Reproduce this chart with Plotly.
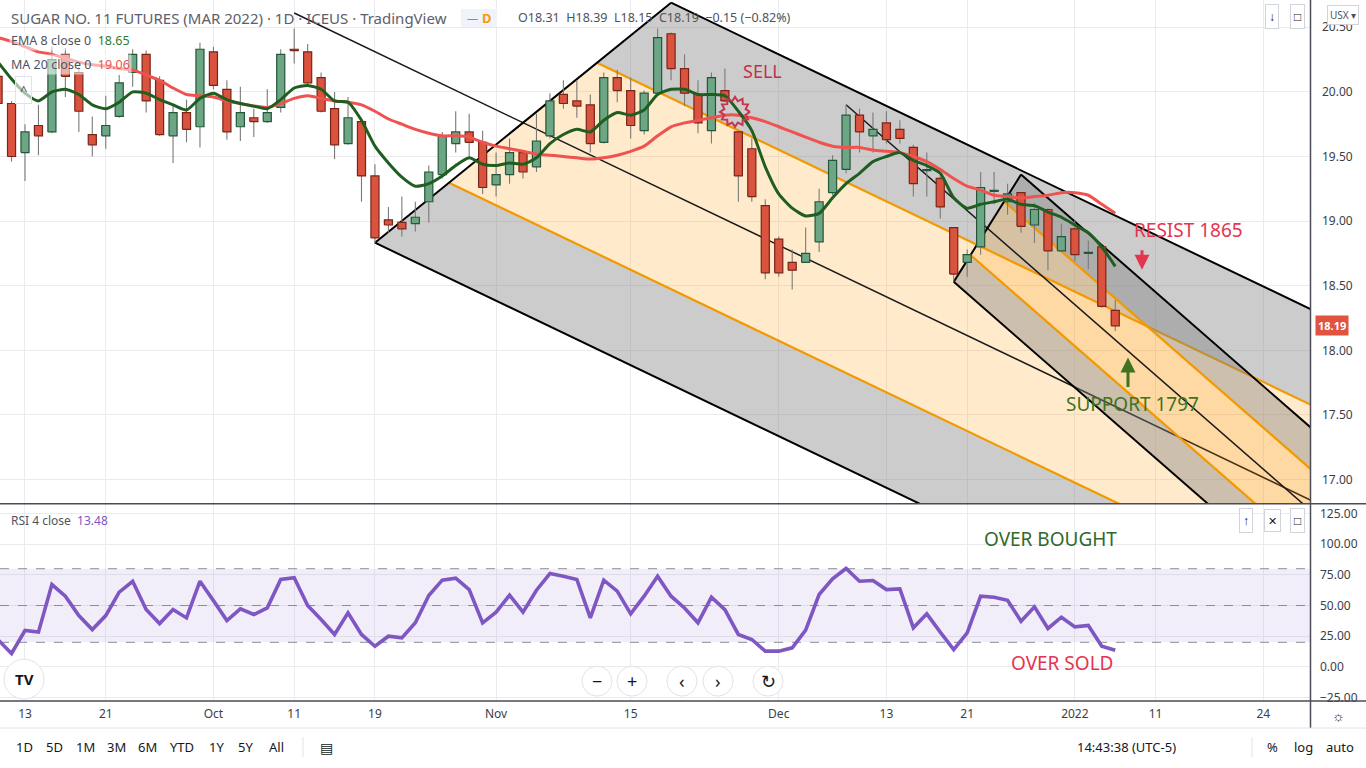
import numpy as np
import plotly.graph_objects as go

W, H = 1366, 768
FIG_H = 773                # rendered height (page is captured slightly compressed)
PANE_RIGHT = 1310          # px, right edge of the chart panes
PRICE_TOP, PRICE_BOT = 0, 504
RSI_TOP, RSI_BOT = 505, 701

def px(x):
    return x / W

def py(y):
    return 1 - y / H

# ---------------- data (bar index 0 = 13 Sep 2021) ----------------
bar_index = list(range(-2, 82))
opens = [20.12, 19.91, 19.53, 19.74, 19.69, 20.29, 20.15, 19.67, 19.66, 19.81, 20.15, 20.29,
         20.09, 19.66, 19.84, 19.73, 20.31, 20.02, 19.73, 19.80, 19.77, 19.88, 20.33, 20.31,
         20.11, 19.87, 19.60, 19.77, 19.35, 19.01, 18.99, 18.98, 19.15, 19.36, 19.60, 19.69,
         19.61, 19.28, 19.36, 19.53, 19.42, 19.66, 19.98, 19.93, 19.90, 19.61, 20.11, 20.01,
         19.70, 19.99, 20.45, 20.18, 19.98, 19.70, 20.01, 19.69, 19.56, 19.12, 18.86, 18.68,
         18.68, 18.84, 19.22, 19.40, 19.82, 19.66, 19.76, 19.71, 19.57, 19.39, 19.33, 18.95,
         18.68, 18.80, 19.23, 19.15, 19.22, 18.97, 19.09, 18.77, 18.94, 18.75, 18.80, 18.31]
highs = [20.22, 19.93, 19.75, 19.90, 20.35, 20.34, 20.19, 19.81, 19.97, 20.13, 20.33, 20.32,
         20.12, 19.90, 19.94, 20.38, 20.35, 20.09, 20.04, 19.87, 20.02, 20.33, 20.49, 20.37,
         20.15, 20.00, 19.96, 19.80, 19.44, 19.11, 19.19, 19.15, 19.43, 19.69, 19.85, 19.83,
         19.70, 19.53, 19.64, 19.54, 19.83, 19.99, 20.09, 20.09, 19.98, 20.15, 20.17, 20.11,
         20.01, 20.49, 20.46, 20.29, 20.09, 20.15, 20.18, 19.70, 19.64, 19.17, 18.88, 18.78,
         18.95, 19.25, 19.51, 19.90, 19.87, 19.84, 19.85, 19.78, 19.59, 19.53, 19.38, 18.95,
         18.78, 19.38, 19.38, 19.29, 19.22, 19.14, 19.10, 18.98, 19.01, 18.85, 18.80, 18.39]
lows = [19.88, 19.46, 19.31, 19.51, 19.68, 19.96, 19.69, 19.50, 19.56, 19.80, 20.04, 19.84,
        19.66, 19.45, 19.61, 19.57, 20.02, 19.63, 19.62, 19.65, 19.76, 19.84, 20.22, 20.04,
        19.84, 19.48, 19.59, 19.15, 18.83, 18.91, 18.88, 18.92, 18.99, 19.33, 19.53, 19.50,
        19.21, 19.19, 19.29, 19.33, 19.38, 19.64, 19.87, 19.80, 19.53, 19.60, 19.92, 19.64,
        19.67, 19.98, 20.09, 19.89, 19.68, 19.60, 19.92, 19.15, 19.15, 18.55, 18.57, 18.47,
        18.68, 18.76, 19.20, 19.37, 19.53, 19.53, 19.60, 19.60, 19.19, 19.19, 19.02, 18.53,
        18.57, 18.74, 19.13, 19.05, 18.91, 18.83, 18.62, 18.77, 18.69, 18.63, 18.33, 18.15]
closes = [19.91, 19.50, 19.69, 19.66, 20.25, 20.12, 19.85, 19.59, 19.74, 20.07, 20.29, 19.93,
          19.67, 19.84, 19.71, 20.33, 20.05, 19.69, 19.84, 19.77, 19.84, 20.29, 20.32, 20.07,
          19.85, 19.59, 19.80, 19.35, 18.87, 18.97, 18.94, 19.03, 19.38, 19.66, 19.69, 19.61,
          19.26, 19.36, 19.53, 19.38, 19.62, 19.93, 19.91, 19.89, 19.60, 20.11, 20.01, 19.74,
          19.99, 20.42, 20.18, 19.99, 19.76, 20.11, 19.93, 19.35, 19.19, 18.60, 18.60, 18.62,
          18.75, 19.15, 19.47, 19.82, 19.69, 19.71, 19.63, 19.64, 19.29, 19.39, 19.11, 18.59,
          18.74, 19.26, 19.23, 19.21, 18.96, 19.09, 18.77, 18.88, 18.74, 18.75, 18.34, 18.19]
ema8 = [20.23, 20.10, 19.99, 19.93, 20.00, 20.02, 19.98, 19.90, 19.87, 19.92, 20.00, 19.99,
        19.94, 19.90, 19.86, 19.95, 19.99, 19.94, 19.91, 19.89, 19.87, 19.94, 20.03, 20.05,
        20.02, 19.93, 19.92, 19.78, 19.58, 19.45, 19.34, 19.27, 19.29, 19.35, 19.43, 19.49,
        19.44, 19.43, 19.45, 19.44, 19.49, 19.60, 19.67, 19.71, 19.69, 19.78, 19.84, 19.82,
        19.86, 19.98, 20.02, 20.02, 19.98, 19.98, 19.97, 19.85, 19.70, 19.42, 19.21, 19.10,
        19.04, 19.06, 19.18, 19.29, 19.37, 19.46, 19.50, 19.53, 19.47, 19.43, 19.37, 19.18,
        19.10, 19.13, 19.15, 19.17, 19.13, 19.12, 19.07, 19.03, 18.97, 18.91, 18.80, 18.65]
ma20 = [20.42, 20.39, 20.35, 20.31, 20.29, 20.26, 20.23, 20.21, 20.20, 20.18, 20.17, 20.13,
        20.09, 20.03, 19.98, 19.97, 19.96, 19.93, 19.91, 19.89, 19.88, 19.91, 19.95, 19.97,
        19.95, 19.93, 19.92, 19.90, 19.85, 19.79, 19.75, 19.71, 19.68, 19.66, 19.66, 19.65,
        19.61, 19.58, 19.56, 19.54, 19.52, 19.51, 19.50, 19.49, 19.48, 19.49, 19.51, 19.54,
        19.58, 19.66, 19.73, 19.76, 19.78, 19.80, 19.82, 19.82, 19.80, 19.77, 19.73, 19.69,
        19.65, 19.61, 19.58, 19.57, 19.57, 19.55, 19.54, 19.53, 19.50, 19.46, 19.40, 19.33,
        19.27, 19.24, 19.20, 19.19, 19.18, 19.19, 19.20, 19.22, 19.22, 19.20, 19.13, 19.06]
rsi4 = [22.0, 10.9, 29.6, 28.3, 67.1, 57.6, 41.8, 30.4, 41.8, 60.9, 69.8, 46.7,
        35.3, 46.7, 39.9, 69.8, 54.0, 37.8, 47.3, 42.7, 48.1, 71.2, 72.6, 50.0,
        38.6, 26.4, 44.0, 26.4, 16.8, 25.0, 23.6, 35.9, 58.2, 70.7, 72.3, 63.0,
        35.9, 44.6, 58.4, 44.6, 62.5, 76.1, 73.9, 71.2, 39.9, 70.7, 61.7, 43.2,
        57.6, 73.9, 57.6, 48.0, 35.9, 56.8, 46.7, 26.4, 22.3, 12.8, 12.8, 15.5,
        29.9, 59.0, 71.7, 80.2, 69.8, 70.4, 63.0, 63.6, 31.8, 43.2, 28.3, 14.1,
        27.7, 57.6, 56.8, 54.3, 37.2, 48.9, 31.3, 40.5, 32.6, 33.7, 16.8, 13.48]

tick_index = [0, 6, 14, 20, 26, 35, 45, 56, 64, 70, 78, 84, 92]
tick_text = ["13", "21", "Oct", "11", "19", "Nov", "15", "Dec", "13", "21", "2022", "11", "24"]
price_ticks = [17.0, 17.5, 18.0, 18.5, 19.0, 19.5, 20.0, 20.5]
rsi_ticks = [-25, 0, 25, 50, 75, 100, 125]
rsi_levels = [20, 50, 80]

# pitchfork anchor points (bar index, price): handle, pivot 1, pivot 2
fork_big = [(20, 20.61), (26, 18.833), (48, 20.69)]
fork_small = [(61, 19.90), (69, 18.53), (74, 19.36)]
star_center = (52.75, 19.845)

last_price = 18.19

X_RANGE = [-1.857, 95.47]
Y_RANGE = [16.816, 20.711]
RSI_RANGE = [-27.1, 132.5]

# ---------------- figure ----------------
fig = go.Figure()
shapes = []

GRAY_FILL = "rgba(128,128,128,0.40)"
ORANGE_FILL = "rgba(255,152,0,0.20)"
ORANGE = "#f29900"


def seg(a, b, color, width):
    return dict(type="line", xref="x", yref="y", x0=float(a[0]), y0=float(a[1]),
                x1=float(b[0]), y1=float(b[1]), line=dict(color=color, width=width),
                layer="between")


def add_fork(points):
    p0, p1, p2 = [np.array(p, dtype=float) for p in points]
    mid = (p1 + p2) / 2
    slope = (mid[1] - p0[1]) / (mid[0] - p0[0])
    x_end = 140.0

    def ray(f):
        s = p1 + f * (p2 - p1)
        e = np.array([x_end, s[1] + slope * (x_end - s[0])])
        return s, e

    rays = {f: ray(f) for f in (0.0, 0.25, 0.75, 1.0)}
    for fa, fb, col in [(0.0, 0.25, GRAY_FILL), (0.25, 0.75, ORANGE_FILL), (0.75, 1.0, GRAY_FILL)]:
        sa, ea = rays[fa]
        sb, eb = rays[fb]
        path = "M %f,%f L %f,%f L %f,%f L %f,%f Z" % (sa[0], sa[1], ea[0], ea[1], eb[0], eb[1], sb[0], sb[1])
        shapes.append(dict(type="path", xref="x", yref="y", path=path, fillcolor=col,
                           line=dict(width=0), layer="between"))
    for f in (0.25, 0.75):
        s, e = rays[f]
        shapes.append(seg(s, e, ORANGE, 2.2))
    e = np.array([x_end, p0[1] + slope * (x_end - p0[0])])
    shapes.append(seg(p0, e, "#1a1a1a", 1.5))
    for f in (0.0, 1.0):
        s, e = rays[f]
        shapes.append(seg(s, e, "#000000", 2))
    shapes.append(seg(p1, p2, "#000000", 2))


add_fork(fork_big)
add_fork(fork_small)

# wicks
wx, wy = [], []
for i, hi, lo in zip(bar_index, highs, lows):
    wx += [i, i, None]
    wy += [lo, hi, None]
fig.add_trace(go.Scatter(x=wx, y=wy, mode="lines", line=dict(color="#7a7a7a", width=1.1),
                         hoverinfo="skip", showlegend=False, xaxis="x", yaxis="y"))

# bodies (filled scatter rectangles so they sit above wicks and drawings)
half = 0.3
for up in (True, False):
    bx, by = [], []
    for i, o, c in zip(bar_index, opens, closes):
        if (c >= o) == up:
            lo_b, hi_b = min(o, c), max(o, c)
            if hi_b - lo_b < 0.008:
                hi_b = lo_b + 0.008
            bx += [i - half, i + half, i + half, i - half, i - half, None]
            by += [lo_b, lo_b, hi_b, hi_b, lo_b, None]
    fig.add_trace(go.Scatter(x=bx, y=by, mode="lines", fill="toself",
                             fillcolor="#6ca685" if up else "#d9533f",
                             line=dict(color="#24573a" if up else "#7a2418", width=1.2),
                             hoverinfo="skip", showlegend=False, xaxis="x", yaxis="y"))

# moving averages
fig.add_trace(go.Scatter(x=bar_index, y=ma20, mode="lines",
                         line=dict(color="#ef5350", width=3, shape="spline", smoothing=0.6),
                         hoverinfo="skip", showlegend=False, xaxis="x", yaxis="y"))
fig.add_trace(go.Scatter(x=bar_index, y=ema8, mode="lines",
                         line=dict(color="#1f5e20", width=3, shape="spline", smoothing=0.6),
                         hoverinfo="skip", showlegend=False, xaxis="x", yaxis="y"))

# sell marker (decorative sunburst)
ang = np.linspace(0, 2 * np.pi, 25)
rad = np.where(np.arange(25) % 2 == 0, 15.0, 11.0)
fig.add_trace(go.Scatter(x=star_center[0] + rad * np.cos(ang) / 13.46,
                         y=star_center[1] + rad * np.sin(ang) / 129.4,
                         mode="lines", line=dict(color="#c7354f", width=2),
                         hoverinfo="skip", showlegend=False, xaxis="x", yaxis="y"))

# RSI
fig.add_trace(go.Scatter(x=bar_index, y=rsi4, mode="lines", line=dict(color="#7e57c2", width=3.6),
                         hoverinfo="skip", showlegend=False, xaxis="x2", yaxis="y2"))

# ---------------- layout ----------------
dom_x = [0, PANE_RIGHT / W]
FONT = "Noto Sans, Roboto, sans-serif"
axis_font = dict(family=FONT, size=12, color="#3b3e47")
grid_col = "#ebebef"

fig.update_layout(
    width=W, height=FIG_H, margin=dict(l=0, r=0, t=0, b=0),
    paper_bgcolor="white", plot_bgcolor="white",
    showlegend=False, hovermode=False, dragmode=False,
    font=dict(family=FONT),
    xaxis=dict(domain=dom_x, range=X_RANGE, anchor="y", showticklabels=False,
               tickvals=tick_index, showgrid=True, gridcolor=grid_col, zeroline=False,
               showline=False, fixedrange=True),
    yaxis=dict(domain=[py(PRICE_BOT), py(PRICE_TOP)], range=Y_RANGE, side="right",
               anchor="x", tickvals=price_ticks, tickformat=".2f", showgrid=True,
               gridcolor=grid_col, zeroline=False, ticks="", ticklabelstandoff=11,
               tickfont=axis_font, showline=False, fixedrange=True),
    xaxis2=dict(domain=dom_x, range=X_RANGE, anchor="y2", matches="x",
                tickvals=tick_index, ticktext=tick_text, showgrid=True, gridcolor=grid_col,
                zeroline=False, ticks="", ticklabelstandoff=5, tickfont=axis_font,
                showline=False, fixedrange=True),
    yaxis2=dict(domain=[py(RSI_BOT), py(RSI_TOP)], range=RSI_RANGE, side="right",
                anchor="x2", tickvals=rsi_ticks, tickformat=".2f", showgrid=True,
                gridcolor=grid_col, zeroline=False, ticks="", ticklabelstandoff=9,
                tickfont=axis_font, showline=False, fixedrange=True),
)

# RSI band and level lines
shapes.append(dict(type="rect", xref="x2", yref="y2", x0=X_RANGE[0], x1=X_RANGE[1],
                   y0=rsi_levels[0], y1=rsi_levels[2], fillcolor="rgba(126,87,194,0.10)",
                   line=dict(width=0), layer="between"))
for lv in rsi_levels:
    shapes.append(dict(type="line", xref="x2", yref="y2", x0=X_RANGE[0], x1=X_RANGE[1],
                       y0=lv, y1=lv, line=dict(color="#8a8d96", width=1, dash="dash"), layer="between"))
# pane borders
sep = "#4a4d57"
shapes += [
    dict(type="line", xref="paper", yref="paper", x0=0, x1=1, y0=py(504.5), y1=py(504.5), line=dict(color=sep, width=1.5)),
    dict(type="line", xref="paper", yref="paper", x0=0, x1=1, y0=py(702), y1=py(702), line=dict(color=sep, width=1.5)),
    dict(type="line", xref="paper", yref="paper", x0=px(1310.5), x1=px(1310.5), y0=py(0), y1=py(729), line=dict(color=sep, width=1.5)),
    dict(type="line", xref="paper", yref="paper", x0=0, x1=1, y0=py(729), y1=py(729), line=dict(color="#e0e3eb", width=1)),
    dict(type="line", xref="paper", yref="paper", x0=px(303), x1=px(303), y0=py(738), y1=py(758), line=dict(color="#e0e3eb", width=1)),
    dict(type="line", xref="paper", yref="paper", x0=px(1252), x1=px(1252), y0=py(738), y1=py(758), line=dict(color="#e0e3eb", width=1)),
]
# header pill
shapes.append(dict(type="rect", xref="paper", yref="paper", x0=px(461), x1=px(497), y0=py(27), y1=py(9),
                   fillcolor="#f0f3fa", line=dict(width=0)))
# round nav buttons + TV logo
for cx in (597, 632, 682, 718, 768):
    shapes.append(dict(type="circle", xref="paper", yref="paper", x0=px(cx - 15), x1=px(cx + 15),
                       y0=py(682 + 15), y1=py(682 - 15), fillcolor="white", line=dict(color="#e3e3e6", width=1)))
shapes.append(dict(type="circle", xref="paper", yref="paper", x0=px(4), x1=px(44), y0=py(700), y1=py(660),
                   fillcolor="white", line=dict(color="#e3e3e6", width=1)))
fig.update_layout(shapes=shapes)

ann = []
def text(x, y, s, size=13, color="#50535e", anchor="left", bg=None, bold=False, border=None, pad=1):
    d = dict(xref="paper", yref="paper", x=px(x), y=py(y), text=("<b>%s</b>" % s) if bold else s,
             showarrow=False, xanchor=anchor, yanchor="middle",
             font=dict(size=size, color=color, family=FONT))
    if bg:
        d["bgcolor"] = bg
    if border:
        d["bordercolor"] = border
        d["borderwidth"] = 1
        d["borderpad"] = pad
    ann.append(d)

text(9, 18, "SUGAR NO. 11 FUTURES (MAR 2022) · 1D · ICEUS · TradingView", size=15, color="#5d606b")
text(472, 18, "—", size=11, color="#8a8d96", anchor="center")
text(487, 18, "D", size=13, color="#ff9800", anchor="center", bold=True)
text(516, 18, "O18.31  H18.39  L18.15  C18.19  −0.15 (−0.82%)", size=12.5, color="#50535e")
text(9, 41, "EMA 8 close 0  <span style='color:#2f7d32'>18.65</span>", size=12.5, bg="rgba(255,255,255,0.55)")
text(9, 65, "MA 20 close 0  <span style='color:#ef5350'>19.06</span>", size=12.5, bg="rgba(255,255,255,0.55)")
text(23, 90, "^", size=13, color="#50535e", anchor="center", border="#e0e3eb", pad=4, bg="rgba(255,255,255,0.6)")
text(9, 521, "RSI 4 close  <span style='color:#7e57c2'>13.48</span>", size=12)

text(762, 71, "SELL", size=18, color="#c2314b", anchor="center")
text(1188, 230, "RESIST 1865", size=19, color="#e5344f", anchor="center")
text(1132, 405, "SUPPORT 1797", size=19, color="#3f7322", anchor="center")
text(1050, 540, "OVER BOUGHT", size=19, color="#2f6a2c", anchor="center")
text(1062, 664, "OVER SOLD", size=19, color="#e5344f", anchor="center")

# arrows
ann.append(dict(xref="paper", yref="paper", x=px(1142), y=py(270), ax=0, ay=-21, axref="pixel", ayref="pixel",
                showarrow=True, arrowhead=2, arrowsize=1, arrowwidth=3, arrowcolor="#e5344f", text=""))
ann.append(dict(xref="paper", yref="paper", x=px(1128), y=py(358), ax=0, ay=31, axref="pixel", ayref="pixel",
                showarrow=True, arrowhead=2, arrowsize=1, arrowwidth=3, arrowcolor="#3f7322", text=""))

# last price label
ann.append(dict(xref="paper", yref="y", x=px(1332), y=last_price, text="<b>18.19</b>", showarrow=False,
                xanchor="center", yanchor="middle", bgcolor="#e0533f", borderpad=2,
                font=dict(size=11, color="white", family=FONT)))

# UI buttons
text(1343, 15, "USX ▾", size=10, color="#50535e", anchor="center", border="#d1d4dc", pad=2, bg="white")
text(1272, 17, "↓", size=12, color="#131722", anchor="center", border="#d1d4dc", pad=3, bg="white")
text(1297, 17, "□", size=12, color="#131722", anchor="center", border="#d1d4dc", pad=3, bg="white")
text(1246, 521, "↑", size=12, color="#131722", anchor="center", border="#d1d4dc", pad=3, bg="white")
text(1272, 521, "✕", size=11, color="#131722", anchor="center", border="#d1d4dc", pad=3, bg="white")
text(1297, 521, "□", size=12, color="#131722", anchor="center", border="#d1d4dc", pad=3, bg="white")
for cx, g in zip((597, 632, 682, 718, 768), ("−", "+", "‹", "›", "↻")):
    text(cx, 682, g, size=18, color="#131722", anchor="center")
text(24, 680, "TV", size=15, color="#131722", anchor="center", bold=True)
text(1338, 716, "☼", size=14, color="#131722", anchor="center")

# bottom toolbar
for x, s in zip((24, 54, 85, 116, 147, 182, 216, 245, 276), ("1D", "5D", "1M", "3M", "6M", "YTD", "1Y", "5Y", "All")):
    text(x, 748, s, size=13, color="#131722", anchor="center")
text(326, 748, "▤", size=14, color="#131722", anchor="center")
text(1126, 748, "14:43:38 (UTC-5)", size=13, color="#131722", anchor="center")
text(1272, 748, "%", size=13, color="#131722", anchor="center")
text(1303, 748, "log", size=13, color="#131722", anchor="center")
text(1340, 748, "auto", size=13, color="#131722", anchor="center")

fig.update_layout(annotations=ann)

post = (
    "var b=document.body; b.style.margin='0'; b.style.padding='0'; b.style.overflow='hidden';"
)
fig.write_html("out.html", config=dict(displayModeBar=False), post_script=post)
